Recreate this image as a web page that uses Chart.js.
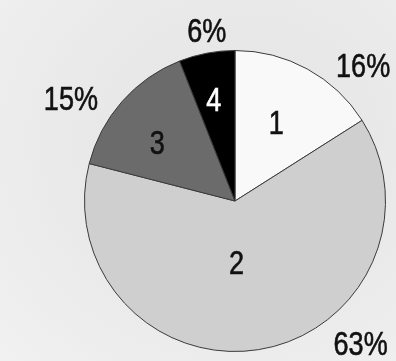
<!DOCTYPE html>
<html><head><meta charset="utf-8">
<script src="https://cdn.jsdelivr.net/npm/chart.js@4/dist/chart.umd.min.js"></script>
<style>
html,body{margin:0;padding:0;}
body{width:396px;height:361px;overflow:hidden;background:radial-gradient(ellipse at 60% 40%, #e4e4e4 0%, #eaeaea 55%, #f1f1f1 100%);}
#wrap{position:relative;width:396px;height:361px;}
</style></head>
<body><div id="wrap"><canvas id="c" width="396" height="361"></canvas></div>
<script>
const categories = ["1", "2", "3", "4"];
const shares = [16, 63, 15, 6];
const percentLabels = ["16%", "63%", "15%", "6%"];

const sliceColors = ["#f9f9f9", "#cfcfcf", "#6b6b6b", "#000000"];
const innerTextColors = ["#111", "#111", "#111", "#fff"];
// label placement: [angle deg clockwise from top, distance as fraction of radius]
const innerPos = [[28.3, 0.58], [178.6, 0.42], [306.3, 0.64], [348, 0.68]];
const outerPos = [[43.8, 1.23], [138.9, 1.27], [301.6, 1.28], [350.5, 1.14]];

const labelPlugin = {
  id: 'pieLabels',
  afterDatasetsDraw(chart) {
    const ctx = chart.ctx;
    const meta = chart.getDatasetMeta(0);
    ctx.save();
    ctx.font = '33px "Liberation Sans", Arial, sans-serif';
    ctx.textAlign = 'center';
    ctx.textBaseline = 'middle';
    const draw = (txt, px, py, color) => {
      ctx.save();
      ctx.translate(px, py);
      ctx.scale(0.82, 1);
      ctx.fillStyle = color;
      ctx.strokeStyle = color;
      ctx.lineWidth = 0.6;
      ctx.fillText(txt, 0, 1);
      ctx.strokeText(txt, 0, 1);
      ctx.restore();
    };
    meta.data.forEach((arc, i) => {
      const {x, y, outerRadius} = arc.getProps(['x', 'y', 'outerRadius'], true);
      const place = (pos) => {
        const a = pos[0] * Math.PI / 180;
        return [x + Math.sin(a) * outerRadius * pos[1], y - Math.cos(a) * outerRadius * pos[1]];
      };
      let p = place(innerPos[i]);
      draw(categories[i], p[0], p[1], innerTextColors[i]);
      p = place(outerPos[i]);
      draw(percentLabels[i], p[0], p[1], '#111');
    });
    ctx.restore();
  }
};

new Chart(document.getElementById('c'), {
  type: 'pie',
  data: {
    labels: categories,
    datasets: [{
      data: shares,
      backgroundColor: sliceColors,
      borderColor: '#3a3a3a',
      borderWidth: 1
    }]
  },
  options: {
    responsive: false,
    animation: false,
    layout: { padding: { left: 84, right: 10, top: 50, bottom: 9 } },
    plugins: { legend: { display: false }, tooltip: { enabled: false } }
  },
  plugins: [labelPlugin]
});
</script></body></html>
